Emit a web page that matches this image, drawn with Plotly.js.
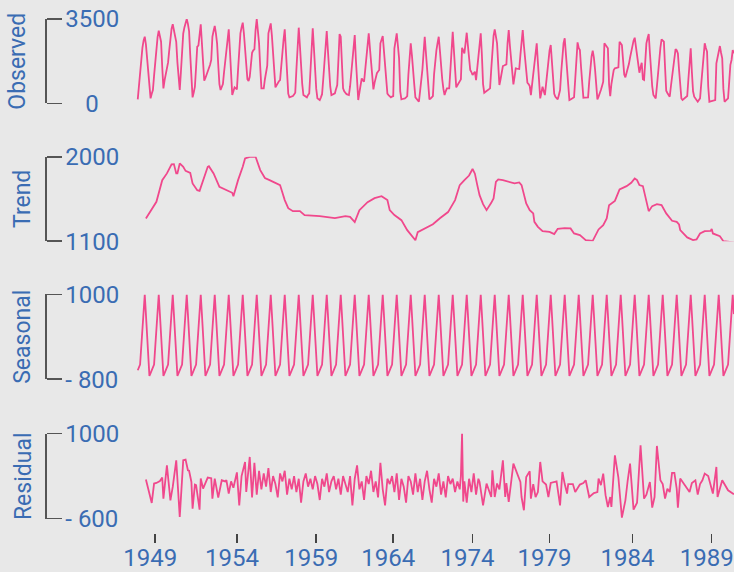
<!DOCTYPE html>
<html>
<head>
<meta charset="utf-8">
<script src="https://cdn.plot.ly/plotly-3.0.1.min.js"></script>
<style>html,body{margin:0;padding:0;background:#e8e8e8;}#chart{width:734px;height:572px;}</style>
</head>
<body>
<div id="chart"></div>
<script>
// Monthly observed values (month index 0..511)
const observed = [
166,700,1300,1900,2300,2600,
2765,2450,1935,1300,700,207,400,552,1150,1797,2300,2750,
3014,2800,2557,1500,622,950,1250,1450,1700,2200,2700,3100,
3280,3000,2850,2550,1700,900,552,1300,2200,2900,3150,3400,
3500,3300,3000,2000,1000,249,450,689,1500,2350,2400,2900,
3280,2500,1700,938,1050,1200,1300,1400,1600,1800,2765,3000,
3209,2900,2490,1600,800,552,700,800,1300,1800,2350,2800,
3071,2200,1200,345,500,664,620,581,1400,2500,2905,3150,
3346,2900,2200,1500,1000,926,1104,1600,2100,2200,2241,3043,
3500,3000,2490,1500,622,622,622,1000,1312,1560,2905,3150,
3320,2800,2212,1400,664,750,850,920,967,1600,2212,2650,
3071,2100,1100,400,249,260,280,303,370,440,1400,2400,
3140,2400,1500,800,345,300,260,249,350,415,1300,2200,
3115,2300,1400,600,207,170,137,250,380,1000,1700,2400,
3000,2200,1400,700,345,370,390,415,600,760,1800,2876,
2765,1700,622,500,415,380,360,345,700,1200,1700,2300,
2835,1800,800,137,450,750,1038,950,897,1400,1900,2400,
2905,2300,1700,1100,581,850,1100,1250,1320,1382,2490,2650,
2794,2200,1500,900,400,345,300,249,280,303,2283,2600,
2905,2400,1868,500,166,180,190,207,250,303,1200,2000,
2490,2000,1519,800,249,180,120,66,500,900,1400,2100,
2765,2100,1400,700,166,200,250,303,1200,1800,2200,2500,
2765,2200,1500,1000,600,345,500,622,622,622,1400,2400,
2972,2200,1300,664,750,830,900,996,2308,2150,2075,2500,
2931,2400,1900,1382,1300,1175,1250,1312,967,1400,1900,2400,
2905,2000,800,440,480,520,560,581,622,1400,2200,2800,
3071,2800,2490,1600,760,1000,1300,1548,1570,1600,1619,2500,
3043,2400,1800,1200,789,1100,1453,1440,1430,1424,2000,2700,
3043,2400,1800,1200,855,800,718,345,800,1300,1800,2200,
2490,1700,900,207,450,689,500,345,800,1300,1800,2200,
2420,1700,1000,400,274,220,166,350,552,1300,2100,2500,
2698,2000,1300,600,137,160,190,220,249,1000,1800,2532,
2300,2212,1500,800,232,235,240,245,249,900,1660,1950,
2183,1900,1400,700,166,280,386,550,720,897,2490,2420,
2350,2283,800,303,800,1200,1382,1453,1470,1480,1494,2557,
2500,2420,1800,1200,1079,1250,1450,1631,1900,2150,2400,2600,
2723,2400,2100,1797,1270,1500,1685,996,967,1700,2490,2700,
2876,2100,1300,700,345,280,207,700,1300,1800,2300,2657,
2600,2557,1500,523,430,350,274,700,1100,1500,1900,2254,
2200,2075,1400,700,200,137,180,240,280,303,1000,1700,
2283,1300,500,274,200,130,66,140,207,800,1400,2000,
2490,2300,2142,700,66,80,95,110,125,137,1660,1900,
2150,2378,2100,1868,600,66,110,160,207,900,1600,1800,
2212,2075
];

// Monthly seasonal component (month index 0..511)
const seasonal = [
-610,-550,-490,-113,265,642,
1000,583,145,-293,-730,-670,-610,-550,-490,-113,265,642,
1000,583,145,-293,-730,-670,-610,-550,-490,-113,265,642,
1000,583,145,-293,-730,-670,-610,-550,-490,-113,265,642,
1000,583,145,-293,-730,-670,-610,-550,-490,-113,265,642,
1000,583,145,-293,-730,-670,-610,-550,-490,-113,265,642,
1000,583,145,-293,-730,-670,-610,-550,-490,-113,265,642,
1000,583,145,-293,-730,-670,-610,-550,-490,-113,265,642,
1000,583,145,-293,-730,-670,-610,-550,-490,-113,265,642,
1000,583,145,-293,-730,-670,-610,-550,-490,-113,265,642,
1000,583,145,-293,-730,-670,-610,-550,-490,-113,265,642,
1000,583,145,-293,-730,-670,-610,-550,-490,-113,265,642,
1000,583,145,-293,-730,-670,-610,-550,-490,-113,265,642,
1000,583,145,-293,-730,-670,-610,-550,-490,-113,265,642,
1000,583,145,-293,-730,-670,-610,-550,-490,-113,265,642,
1000,583,145,-293,-730,-670,-610,-550,-490,-113,265,642,
1000,583,145,-293,-730,-670,-610,-550,-490,-113,265,642,
1000,583,145,-293,-730,-670,-610,-550,-490,-113,265,642,
1000,583,145,-293,-730,-670,-610,-550,-490,-113,265,642,
1000,583,145,-293,-730,-670,-610,-550,-490,-113,265,642,
1000,583,145,-293,-730,-670,-610,-550,-490,-113,265,642,
1000,583,145,-293,-730,-670,-610,-550,-490,-113,265,642,
1000,583,145,-293,-730,-670,-610,-550,-490,-113,265,642,
1000,583,145,-293,-730,-670,-610,-550,-490,-113,265,642,
1000,583,145,-293,-730,-670,-610,-550,-490,-113,265,642,
1000,583,145,-293,-730,-670,-610,-550,-490,-113,265,642,
1000,583,145,-293,-730,-670,-610,-550,-490,-113,265,642,
1000,583,145,-293,-730,-670,-610,-550,-490,-113,265,642,
1000,583,145,-293,-730,-670,-610,-550,-490,-113,265,642,
1000,583,145,-293,-730,-670,-610,-550,-490,-113,265,642,
1000,583,145,-293,-730,-670,-610,-550,-490,-113,265,642,
1000,583,145,-293,-730,-670,-610,-550,-490,-113,265,642,
1000,583,145,-293,-730,-670,-610,-550,-490,-113,265,642,
1000,583,145,-293,-730,-670,-610,-550,-490,-113,265,642,
1000,583,145,-293,-730,-670,-610,-550,-490,-113,265,642,
1000,583,145,-293,-730,-670,-610,-550,-490,-113,265,642,
1000,583,145,-293,-730,-670,-610,-550,-490,-113,265,642,
1000,583,145,-293,-730,-670,-610,-550,-490,-113,265,642,
1000,583,145,-293,-730,-670,-610,-550,-490,-113,265,642,
1000,583,145,-293,-730,-670,-610,-550,-490,-113,265,642,
1000,583,145,-293,-730,-670,-610,-550,-490,-113,265,642,
1000,583,145,-293,-730,-670,-610,-550,-490,-113,265,642,
1000,583,145,-293,-730,-670,-610,-550,-490,-113,265,642,
1000,583
];

// Trend component (month index, value)
const trendMonth = [7,16,21,25,29,31,33,34,36,39,41,45,47,51,53,56,60,61,65,70,76,81,82,86,90,92,96,101,105,109,113,122,126,129,133,139,143,156,169,178,182,186,190,197,203,209,214,216,220,226,231,238,240,246,253,259,266,272,276,280,284,287,289,291,293,296,299,303,305,307,309,313,319,323,327,329,333,336,339,340,343,347,353,357,360,366,371,374,379,384,390,395,399,402,404,409,413,419,423,426,428,430,433,436,438,441,445,449,453,458,462,464,465,471,476,479,482,486,491,492,493,499,502,511];
const trendValue = [1342,1520,1751,1823,1919,1922,1823,1823,1929,1893,1850,1829,1716,1644,1637,1751,1893,1900,1823,1680,1644,1616,1580,1751,1893,1983,2000,2000,1858,1773,1751,1698,1538,1452,1420,1420,1378,1367,1345,1367,1360,1303,1431,1516,1559,1580,1538,1431,1378,1324,1217,1110,1196,1239,1281,1345,1410,1538,1698,1751,1800,1870,1820,1700,1591,1495,1431,1509,1556,1733,1759,1751,1727,1716,1727,1698,1502,1431,1396,1306,1253,1207,1199,1175,1231,1239,1236,1182,1164,1111,1103,1225,1271,1342,1484,1530,1652,1687,1722,1769,1751,1698,1687,1538,1420,1474,1495,1484,1396,1317,1306,1278,1217,1140,1111,1118,1182,1207,1210,1231,1182,1153,1100,1086];

// Residual component (month index, value)
const residualMonth = [7,12,14,16,19,21,22,25,28,30,33,36,39,41,43,44,46,47,49,50,53,54,56,60,63,64,66,69,72,75,76,78,80,82,85,87,89,92,93,96,98,100,102,104,106,108,110,112,114,116,118,120,122,124,126,128,130,132,134,136,138,140,142,144,146,148,150,152,154,156,158,160,162,164,166,168,170,172,174,176,178,180,182,184,186,188,190,192,194,196,198,200,202,204,206,208,210,212,214,216,218,220,222,224,226,228,230,232,234,236,238,240,242,244,246,248,250,252,254,256,258,260,262,264,266,268,270,272,274,276,277,278,279,280,282,284,286,288,290,292,293,296,299,303,304,306,308,310,313,315,316,318,322,325,328,329,331,333,336,337,339,341,343,345,347,350,352,354,358,359,362,364,366,368,369,373,375,379,382,384,387,391,394,395,397,399,401,403,405,406,409,412,415,418,420,422,425,428,431,434,436,439,441,443,445,448,450,452,454,456,458,460,462,463,465,468,471,473,475,478,480,482,484,486,489,492,493,496,497,501,506,511];
const residualValue = [134,-306,59,70,108,172,-224,403,-256,-5,497,-570,497,510,309,300,89,-412,40,30,-431,153,-35,172,160,-224,153,-205,121,100,122,-129,100,-20,270,-350,200,465,-100,560,-200,450,-150,300,-50,250,0,350,-100,200,50,-200,250,100,300,-150,150,-50,200,-100,150,-300,100,250,0,150,-50,200,50,-250,150,0,250,-100,100,200,-50,150,-150,200,50,-100,200,-350,150,400,-50,100,-250,200,50,300,-100,100,-200,450,-50,-350,150,50,200,-100,250,-250,150,0,-300,200,100,-150,250,-100,150,-250,100,300,-50,-300,150,0,250,-150,100,-200,200,50,150,-100,100,-50,200,1000,-280,100,-300,150,-100,250,-150,150,89,-350,59,-194,309,-194,60,-50,497,-194,70,-287,435,277,89,-194,-444,183,290,-224,50,-194,-100,465,100,40,-194,70,100,100,-350,277,50,-129,50,50,-100,40,70,121,-194,-120,-100,153,30,247,-160,-381,-194,-381,591,170,-581,-256,121,435,-431,-300,780,-224,-150,89,-393,-194,767,121,50,-224,-40,-100,259,259,-40,-393,153,50,-40,-100,70,121,-150,50,121,247,200,-40,-129,371,-194,121,-67,-143];

// X-axis tick labels
const tickMonth = [15,85,153,219,287,353,424,492];
const tickYear = ['1949','1954','1959','1964','1974','1979','1984','1989'];

// Panel titles
const panelTitles = ['Observed', 'Trend', 'Seasonal', 'Residual'];

const BLUE = '#3a6cb3';
const PINK = '#f0488c';
const FONT = 'Roboto, "Open Sans", sans-serif';
const months = observed.map((_, i) => i);
const lineStyle = {color: PINK, width: 1.8};

const traces = [
  {x: months, y: observed, xaxis: 'x', yaxis: 'y', mode: 'lines', line: lineStyle, hoverinfo: 'skip'},
  {x: trendMonth, y: trendValue, xaxis: 'x', yaxis: 'y2', mode: 'lines', line: lineStyle, hoverinfo: 'skip'},
  {x: months, y: seasonal, xaxis: 'x', yaxis: 'y3', mode: 'lines', line: lineStyle, hoverinfo: 'skip'},
  {x: residualMonth, y: residualValue, xaxis: 'x', yaxis: 'y4', mode: 'lines', line: lineStyle, hoverinfo: 'skip'}
];

function yax(domain, range, ticktext) {
  return {
    domain: domain, range: range, anchor: 'free', position: 0, side: 'right',
    tickmode: 'array', tickvals: range, ticktext: ticktext,
    showline: true, linecolor: '#555', linewidth: 1.5,
    ticks: 'outside', ticklen: 15, tickwidth: 1.5, tickcolor: '#555',
    ticklabelstandoff: -1,
    showgrid: false, zeroline: false, fixedrange: true,
    tickfont: {family: FONT, size: 24, color: BLUE}
  };
}

const titleX = [-0.0399, -0.0319, -0.0319, -0.0319];
const annotations = panelTitles.map((t, k) => ({
  text: t, textangle: -90, showarrow: false,
  xref: 'paper', x: titleX[k], xanchor: 'center',
  yref: (k === 0 ? 'y' : 'y' + (k + 1)) + ' domain', y: 0.5, yanchor: 'middle',
  font: {family: FONT, size: 23, color: BLUE}
}));

const layout = {
  width: 734, height: 572,
  margin: {l: 45, r: 0, t: 19, b: 39.3},
  paper_bgcolor: '#e8e8e8', plot_bgcolor: '#e8e8e8',
  showlegend: false,
  xaxis: {
    domain: [0, 1], range: [-79.5, 511.1], anchor: 'free', position: 0,
    tickmode: 'array', tickvals: tickMonth, ticktext: tickYear,
    ticks: 'outside', ticklen: 9, tickwidth: 1.5, tickcolor: '#444',
    showline: false, showgrid: false, zeroline: false, fixedrange: true,
    ticklabelshift: -5, ticklabelstandoff: -6,
    tickfont: {family: FONT, size: 24, color: BLUE}
  },
  yaxis: yax([0.8359, 1], [0, 3500], ['\u2007\u20080', '3500']),
  yaxis2: yax([0.5678, 0.7319], [1100, 2000], ['1100', '2000']),
  yaxis3: yax([0.2992, 0.4641], [-800, 1000], ['- 800', '1000']),
  yaxis4: yax([0.0280, 0.1935], [-600, 1000], ['- 600', '1000']),
  annotations: annotations
};

Plotly.newPlot('chart', traces, layout, {staticPlot: true, displayModeBar: false});
</script>
</body>
</html>
